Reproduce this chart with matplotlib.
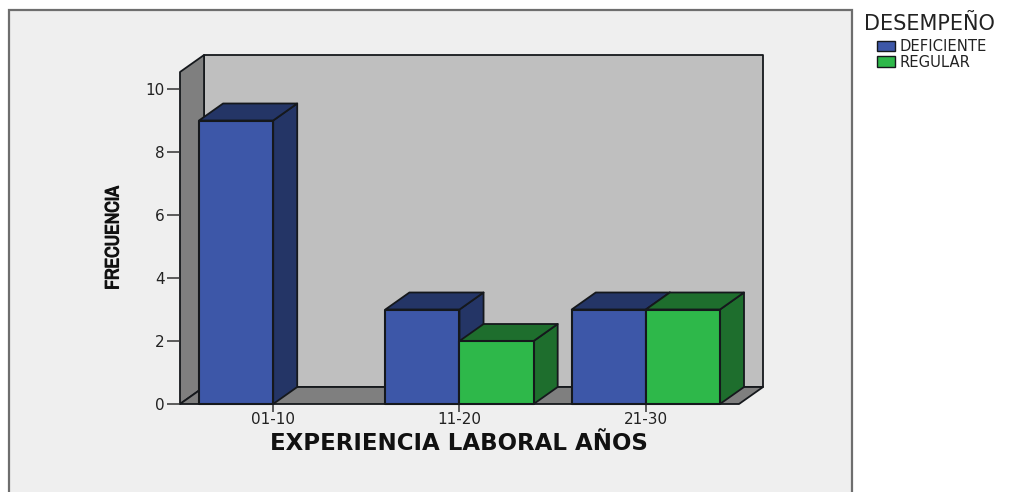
import matplotlib
matplotlib.use("Agg")
import matplotlib.pyplot as plt
import matplotlib.patheffects as pe
from matplotlib import font_manager
from matplotlib.patches import Polygon, Rectangle, Patch

categories = ["01-10", "11-20", "21-30"]
deficiente = [9, 3, 3]
regular = [0, 2, 3]
series_names = ["DEFICIENTE", "REGULAR"]
yticks = [0, 2, 4, 6, 8, 10]

W, H = 1016, 492
BLUE, BLUE_D = "#3d57a8", "#243566"
GREEN, GREEN_D = "#2eb84a", "#1e6e2d"
EDGE = "#15181c"
FONT = ["DejaVu Sans"]

fig = plt.figure(figsize=(W / 100, H / 100), dpi=100, facecolor="white")
fig.add_artist(Rectangle((8.5 / W, -0.05), 843 / W, 1.05 - 10.5 / H,
                         transform=fig.transFigure, facecolor="#efefef",
                         edgecolor="#6e6e6e", linewidth=1.6, zorder=-5))

ax = fig.add_axes([180 / W, (H - 404) / H, 559 / W, 332 / H], zorder=2)
ax.patch.set_visible(False)
ax.set_xlim(-0.5, 2.5)
ax.set_ylim(0, 332 / 31.5)
y_top = 332 / 31.5
dx, dy = 24 / 186, 17 / 31.5
bw = 74 / 186


def poly(pts, fc, z=1, lw=1.3):
    ax.add_patch(Polygon(pts, closed=True, facecolor=fc, edgecolor=EDGE,
                         linewidth=lw, clip_on=False, zorder=z,
                         joinstyle="round"))


x0, x1 = -0.5, 2.5
poly([(x0 + dx, dy), (x1 + dx, dy), (x1 + dx, y_top + dy), (x0 + dx, y_top + dy)], "#bfbfbf")
poly([(x0, 0), (x0 + dx, dy), (x0 + dx, y_top + dy), (x0, y_top)], "#7f7f7f")
poly([(x0, 0), (x1, 0), (x1 + dx, dy), (x0 + dx, dy)], "#7f7f7f")


def bar3d(left, h, front, dark, z):
    r = left + bw
    poly([(r, 0), (r + dx, dy), (r + dx, h + dy), (r, h)], dark, z)
    poly([(left, h), (r, h), (r + dx, h + dy), (left + dx, h + dy)], dark, z)
    poly([(left, 0), (r, 0), (r, h), (left, h)], front, z + 0.1, 1.5)


for i, (a, b) in enumerate(zip(deficiente, regular)):
    if a:
        bar3d(i - bw, a, BLUE, BLUE_D, 3 + i * 2)
    if b:
        bar3d(i, b, GREEN, GREEN_D, 4 + i * 2)

for s in ["top", "right", "bottom", "left"]:
    ax.spines[s].set_visible(False)

ax.set_xticks(range(len(categories)), categories)
ax.set_yticks(yticks)
ax.tick_params(axis="y", length=9.4, width=1.1, color="#333333", pad=1.5,
               labelsize=11, labelcolor="#222222")
ax.tick_params(axis="x", length=5.5, width=1.1, color="#333333", pad=0.5,
               labelsize=11, labelcolor="#222222")
for t in ax.get_xticklabels() + ax.get_yticklabels():
    t.set_family(FONT)

fig.text(459 / W, (H - 443) / H, "EXPERIENCIA LABORAL AÑOS", ha="center", va="center",
         fontsize=16.5, fontweight="bold", family=FONT, color="#111111")

narrow = sorted({f.name for f in font_manager.fontManager.ttflist
                 if "narrow" in f.name.lower() or "condensed" in f.name.lower()})
if narrow:
    yfam, ysize = [narrow[0]], 14
else:
    yfam, ysize = ["Liberation Sans"], 11.6
fig.text(113 / W, (H - 238) / H, "FRECUENCIA", rotation=90, ha="center", va="center",
         fontsize=ysize, fontweight="bold", family=yfam, color="#111111",
         path_effects=[pe.withStroke(linewidth=0.8, foreground="#111111")])

fig.text(864 / W, (H - 24) / H, "DESEMPEÑO", ha="left", va="center",
         fontsize=15, family=FONT, color="#222222")

handles = [Patch(facecolor=BLUE, edgecolor=EDGE, linewidth=1),
           Patch(facecolor=GREEN, edgecolor=EDGE, linewidth=1)]
leg = fig.legend(handles, series_names, frameon=False,
                 loc="upper left", bbox_to_anchor=(877 / W, (H - 39) / H),
                 borderaxespad=0, borderpad=0, handlelength=1.2, handleheight=0.72,
                 handletextpad=0.3, labelspacing=0.04,
                 prop={"family": FONT, "size": 10.6})
for t in leg.get_texts():
    t.set_color("#222222")

fig.savefig("out.png", dpi=100)
